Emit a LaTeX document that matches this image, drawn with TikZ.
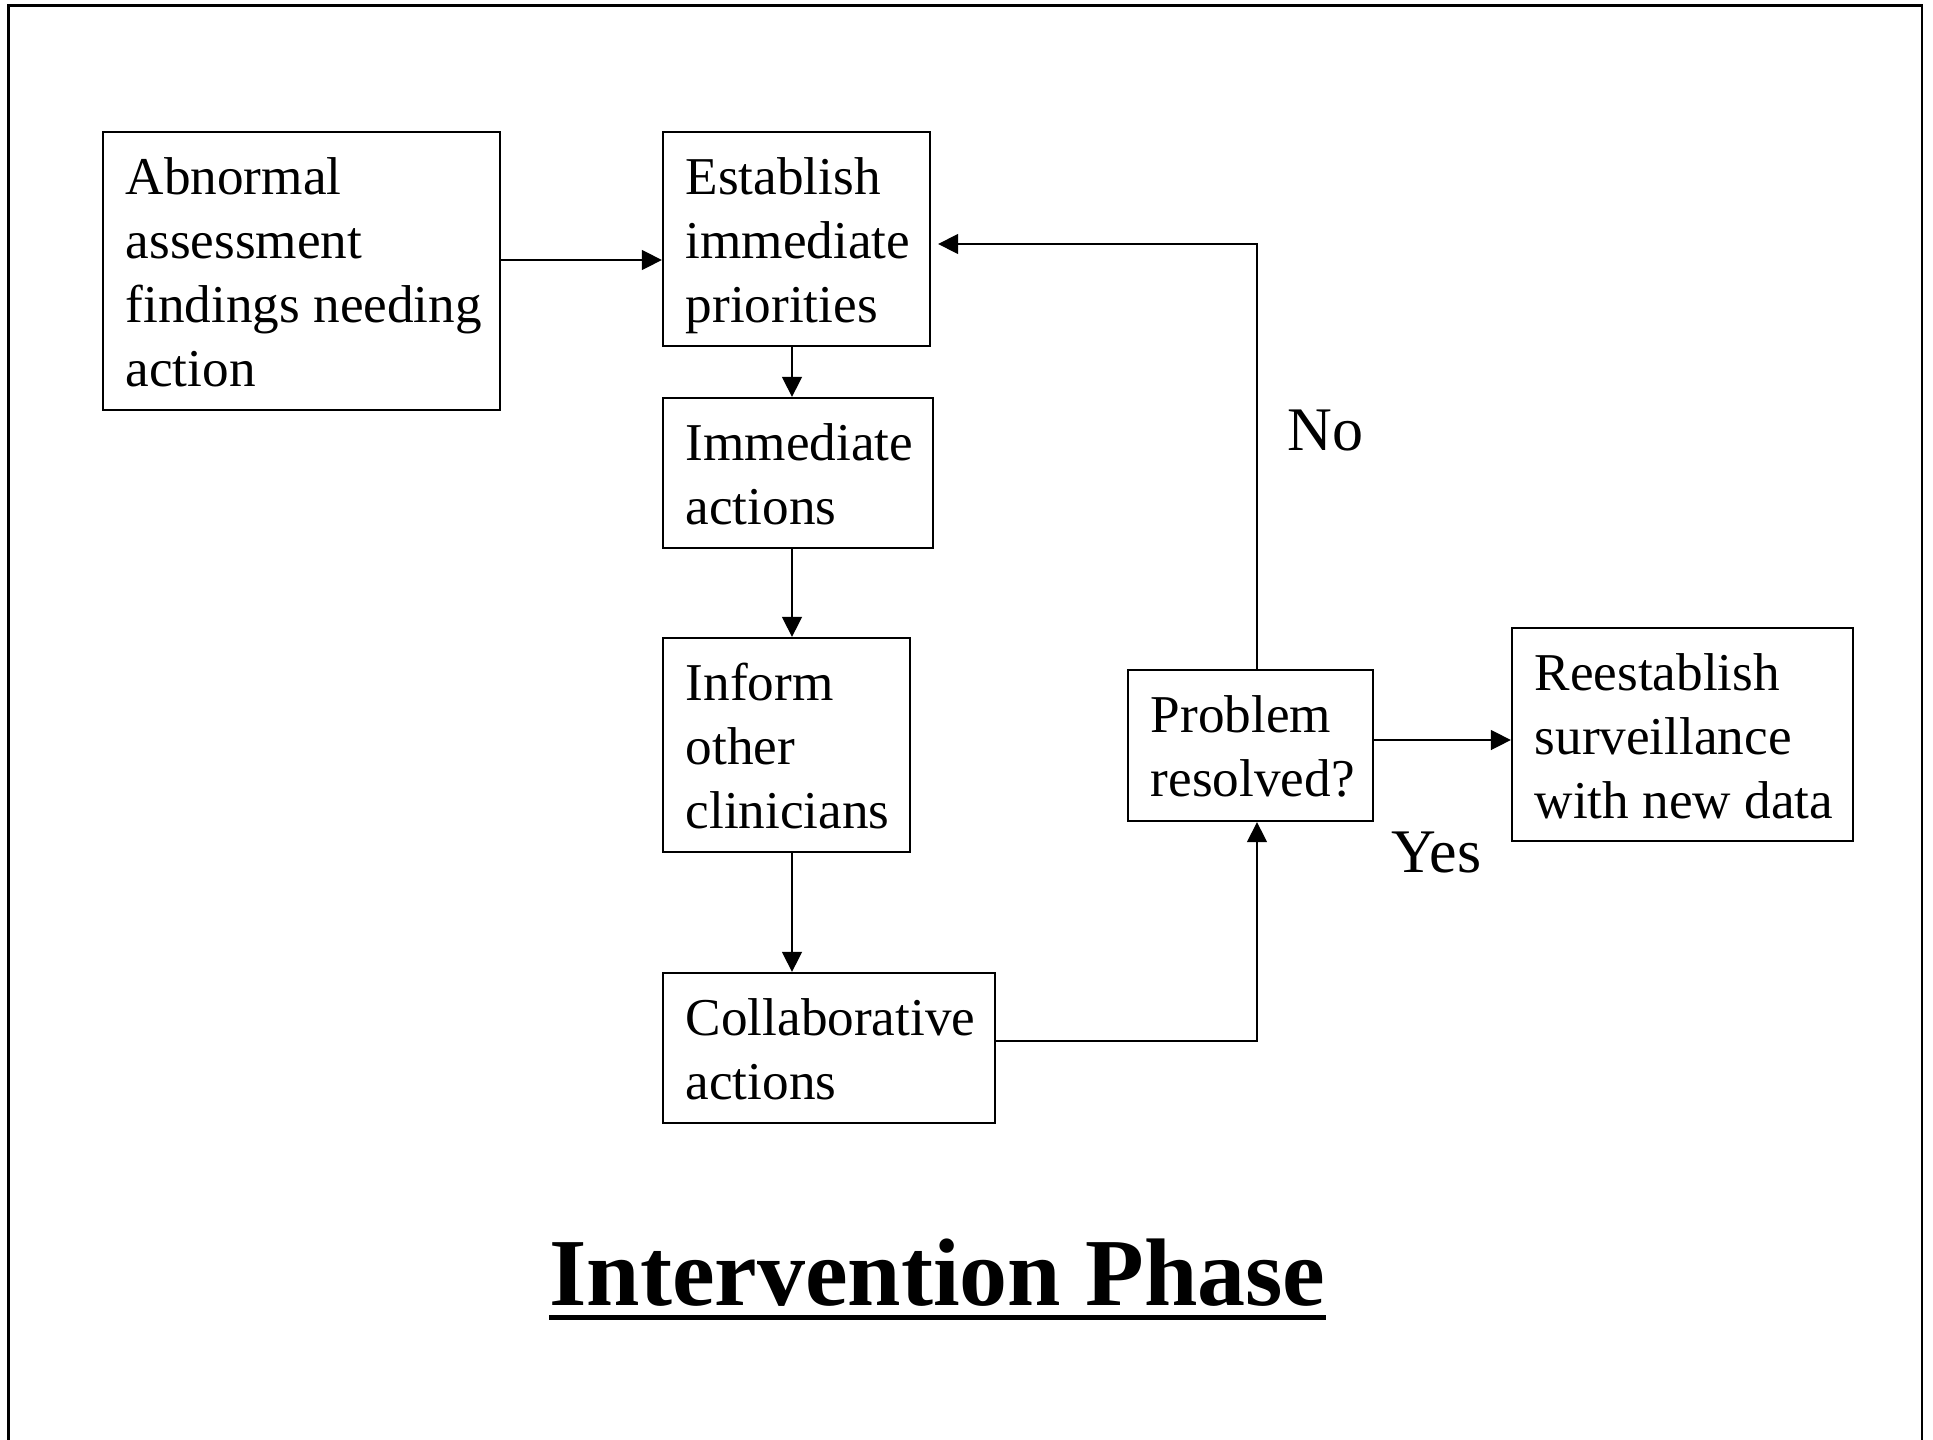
\documentclass[tikz,border=0pt]{standalone}
\usepackage{fontspec}
\setmainfont{Liberation Serif}
\usetikzlibrary{arrows.meta,calc,fit}
\begin{document}
\begin{tikzpicture}[x=0.5pt,y=-0.5pt,
  box/.style={draw, line width=1.15pt, rectangle, inner sep=0pt},
  txt/.style={inner sep=0pt, anchor=north west, align=left, font=\fontsize{26.6}{32}\selectfont},
  lbl/.style={inner sep=0pt, anchor=base west, font=\fontsize{31}{37}\selectfont},
  arr/.style={line width=0.75pt, -{Triangle[length=10pt,width=10pt]}},
]
\useasboundingbox (0,0) rectangle (1933,1440);
% outer frame
\draw[line width=1.25pt] (8.6,1440) -- (8.6,5.3) -- (1922,5.3) -- (1922,1440);

% boxes
\node[box, fit={(103,132) (500,410)}] (A) {};
\node[box, fit={(663,132) (930,346)}] (B) {};
\node[box, fit={(663,398) (933,548)}] (C) {};
\node[box, fit={(663,638) (910,852)}] (D) {};
\node[box, fit={(663,973) (995,1123)}] (E) {};
\node[box, fit={(1128,670) (1373,821)}] (F) {};
\node[box, fit={(1512,628) (1853,841)}] (G) {};

% texts
\node[txt] (At) at ($(A.north west)+(23.5,18)$) {\strut Abnormal\\assessment\\findings needing\\action};
\node[txt] (Bt) at ($(B.north west)+(23.5,18)$) {\strut Establish\\immediate\\priorities};
\node[txt] (Ct) at ($(C.north west)+(23.5,18)$) {\strut Immediate\\actions};
\node[txt] (Dt) at ($(D.north west)+(23.5,18)$) {\strut Inform\\other\\clinicians};
\node[txt] (Et) at ($(E.north west)+(23.5,18)$) {\strut Collaborative\\actions};
\node[txt] (Ft) at ($(F.north west)+(23.5,18)$) {\strut Problem\\resolved?};
\node[txt] (Gt) at ($(G.north west)+(23.5,18)$) {\strut Reestablish\\surveillance\\with new data};

% helper coordinates
\coordinate (yAB) at (0,260);
\coordinate (xv) at (792,0);
\coordinate (yEF) at (0,1041);
\coordinate (xF) at (1257,0);
\coordinate (yFB) at (0,244);
\coordinate (yFG) at (0,740);

% connectors
\draw[arr] (A.east |- yAB) -- (B.west |- yAB);
\draw[arr] (B.south -| xv) -- (C.north -| xv);
\draw[arr] (C.south -| xv) -- (D.north -| xv);
\draw[arr] (D.south -| xv) -- (E.north -| xv);
\draw[arr] (E.east |- yEF) -| (F.south -| xF);
\draw[arr, shorten >=3.5pt] (F.north -| xF) |- (B.east |- yFB);
\draw[arr] (F.east |- yFG) -- (G.west |- yFG);

% labels
\node[lbl] (no) at (1287,450) {No};
\node[lbl] (yes) at (1391,872) {Yes};

% title
\node[inner sep=0pt, anchor=base west, font=\fontsize{48}{58}\selectfont\bfseries] (title) at (549,1305) {Intervention Phase};
\draw[line width=2.5pt] ($(title.base west)+(0,12)$) -- ($(title.base east)+(0,12)$);
\end{tikzpicture}
\end{document}
